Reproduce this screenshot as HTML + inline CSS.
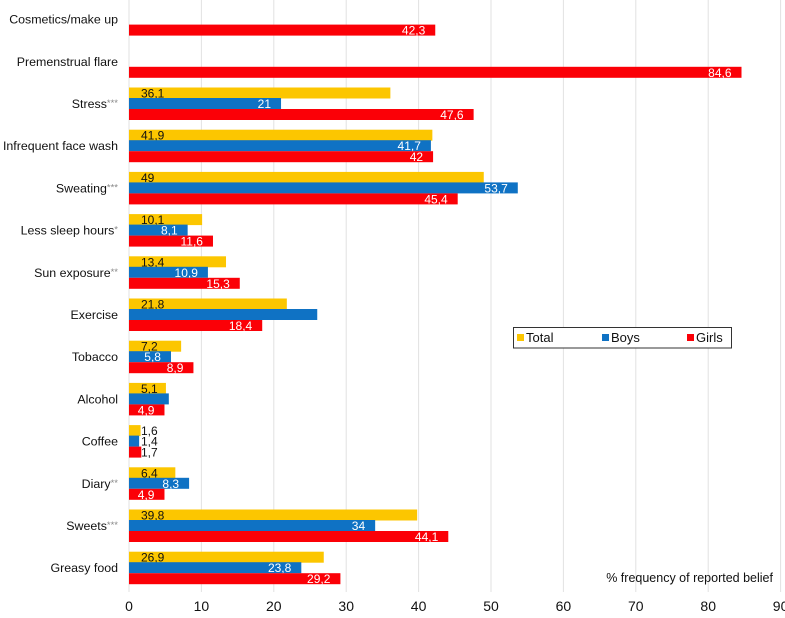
<!DOCTYPE html>
<html><head><meta charset="utf-8">
<style>
body{margin:0;background:#fff;font-family:"Liberation Sans",Arial,sans-serif;}
svg text{font-family:"Liberation Sans",Arial,sans-serif;}
</style></head>
<body>
<svg id="chart" width="785" height="613"></svg>
<script>
const categories=["Cosmetics/make up","Premenstrual flare","Stress","Infrequent face wash","Sweating","Less sleep hours","Sun exposure","Exercise","Tobacco","Alcohol","Coffee","Diary","Sweets","Greasy food"];
const stars=["","","***","","***","*","**","","","","","**","***",""];
const totalVals=[null,null,36.1,41.9,49,10.1,13.4,21.8,7.2,5.1,1.6,6.4,39.8,26.9];
const boysVals=[null,null,21,41.7,53.7,8.1,10.9,26,5.8,5.5,1.4,8.3,34,23.8];
const girlsVals=[42.3,84.6,47.6,42,45.4,11.6,15.3,18.4,8.9,4.9,1.7,4.9,44.1,29.2];
const boysShow=[false,false,true,true,true,true,true,false,true,false,true,true,true,true];
const ticks=[0,10,20,30,40,50,60,70,80,90];
const NS="http://www.w3.org/2000/svg";
const svg=document.getElementById('chart');
const x0=129,pxPer=7.24,top0=19.1,step=42.2,bh=11;
const xs=v=>x0+v*pxPer;
const yc=i=>top0+i*step;
function el(tag,attrs,parent){const e=document.createElementNS(NS,tag);for(const k in attrs)e.setAttribute(k,attrs[k]);(parent||svg).appendChild(e);return e;}
function fmt(v){return String(v).replace('.',',');}
ticks.forEach(t=>{
  const g=el('line',{x1:xs(t),x2:xs(t),y1:0,y2:592,stroke:'#e2e2e2','stroke-width':1});
  
  
  const tx=el('text',{x:xs(t),y:611,'text-anchor':'middle','font-size':14,fill:'#111'});
  tx.textContent=t;
  
  
});
const at=el('text',{x:773,y:582,'text-anchor':'end','font-size':12.5,fill:'#111'});
at.textContent='% frequency of reported belief';


categories.forEach((c,i)=>{
  const y=yc(i);
  const lab=el('text',{x:118,y:y+4.5,'text-anchor':'end','font-size':12.4,fill:'#111'});
  lab.textContent=c;
  if(stars[i]){const s=el('tspan',{fill:'#888','font-size':9.5,dy:-2},lab);s.textContent=stars[i];}
  
  
  const series=[[totalVals,'#fcc600',-1.5*bh+0.5,'total'],[boysVals,'#0f72c4',-0.5*bh,'boys'],[girlsVals,'#fb0007',0.5*bh,'girls']];
  series.forEach(([arr,col,off,nm])=>{
    const v=arr[i];if(v==null)return;
    const r=el('rect',{x:x0,y:y+off,width:xs(v)-x0,height:bh,fill:col});
    
    
    if(nm==='total'){
      const t=el('text',{x:x0+12,y:y+off+10,'font-size':12,fill:'#111'});t.textContent=fmt(v);
      
      
    } else if(nm==='girls'||boysShow[i]){
      const small=v<3;
      const t=el('text',{x:small?x0+12:xs(v)-10,y:y+off+10,'text-anchor':small?'start':'end','font-size':12,fill:small?'#111':'#fff'});t.textContent=fmt(v);
      
      
    }
  });
});
const lg=el('g',{});


el('rect',{x:513.5,y:327.5,width:218,height:20.5,fill:'#fff',stroke:'#333','stroke-width':1},lg);
[['Total','#fcc600',517],['Boys','#0f72c4',602],['Girls','#fb0007',687]].forEach(([n,c,x])=>{
  const sw=el('rect',{x:x,y:334,width:7,height:7,fill:c},lg);
  
  
  const t=el('text',{x:x+9,y:342,'font-size':13,fill:'#111'},lg);t.textContent=n;
  
  
});
</script>
</body></html>
